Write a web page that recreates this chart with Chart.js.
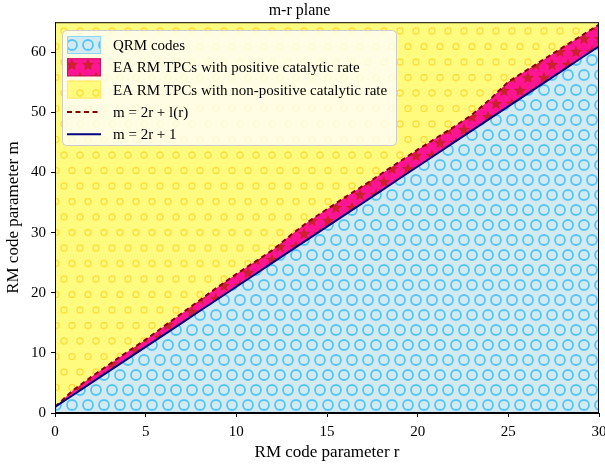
<!DOCTYPE html>
<html>
<head>
<meta charset="utf-8">
<script src="https://cdn.jsdelivr.net/npm/chart.js@4.4.0/dist/chart.umd.min.js"></script>
<style>
  html, body { margin: 0; padding: 0; background: #fff; }
  #wrap { width: 605px; height: 470px; }
</style>
</head>
<body>
<div id="wrap"><canvas id="mrChart" width="605" height="470"></canvas></div>
<script>
// values
const rValues = [0, 1, 2, 3, 4, 5, 6, 7, 8, 9, 10, 11, 12, 13, 14, 15, 16, 17, 18, 19, 20, 21, 22, 23, 24, 25, 26, 27, 28, 29, 30];
const qrmBound = [1, 3, 5, 7, 9, 11, 13, 15, 17, 19, 21, 23, 25, 27, 29, 31, 33, 35, 37, 39, 41, 43, 45, 47, 49, 51, 53, 55, 57, 59, 61];
const catalyticBound = [1.0, 3.8, 6.0, 8.1, 10.2, 12.2, 14.4, 16.6, 18.8, 21.0, 23.1, 25.1, 27.1, 29.6, 31.9, 33.9, 35.9, 37.8, 39.8, 41.8, 43.8, 45.7, 47.6, 49.6, 52.2, 55.1, 57.0, 58.9, 60.8, 62.7, 64.6];
const seriesLabels = ['QRM codes', 'EA RM TPCs with positive catalytic rate', 'EA RM TPCs with non-positive catalytic rate', 'm = 2r + l(r)', 'm = 2r + 1'];
const xTicks = [0, 5, 10, 15, 20, 25, 30];
const yTicks = [0, 10, 20, 30, 40, 50, 60];

const serif = "'Liberation Serif', 'DejaVu Serif', serif";

// hatch-like fills
function makePattern(bg, w, h, drawMark) {
    const c = document.createElement('canvas');
    c.width = w; c.height = h;
    const g = c.getContext('2d');
    g.fillStyle = bg;
    g.fillRect(0, 0, w, h);
    const spots = [[0, 0], [w, 0], [0, h], [w, h], [w / 2, h / 2]];
    spots.forEach(p => drawMark(g, p[0], p[1]));
    return g.createPattern(c, 'repeat');
}

function ring(color, rad, lw) {
    return function (g, x, y) {
        g.strokeStyle = color;
        g.lineWidth = lw;
        g.beginPath();
        g.arc(x, y, rad, 0, Math.PI * 2);
        g.stroke();
    };
}

function star(color, rad) {
    return function (g, x, y) {
        g.fillStyle = color;
        g.beginPath();
        for (let i = 0; i < 10; i++) {
            const a = -Math.PI / 2 + i * Math.PI / 5;
            const rr = i % 2 === 0 ? rad : rad * 0.45;
            g.lineTo(x + rr * Math.cos(a), y + rr * Math.sin(a));
        }
        g.closePath();
        g.fill();
    };
}

const bluePattern = makePattern('#d3eaf2', 16, 30, ring('#55c6f2', 5, 1.8));
const pinkPattern = makePattern('#ff1493', 16, 26, star('#cc2030', 6.5));
const yellowPattern = makePattern('#fffb7e', 16, 31, ring('#ffde3c', 3, 1.3));

function pts(ys) {
    return rValues.map((r, i) => ({ x: r, y: ys[i] }));
}

// legend drawn inside the plot, like the original
const insideLegend = {
    id: 'insideLegend',
    afterDraw(chart) {
        const ctx = chart.ctx;
        const ds = chart.data.datasets;
        const x0 = 62, y0 = 30, w = 334, h = 115;
        ctx.save();
        ctx.fillStyle = 'rgba(255,255,255,0.8)';
        ctx.strokeStyle = '#cccccc';
        ctx.lineWidth = 1;
        ctx.beginPath();
        ctx.roundRect(x0 + 0.5, y0 + 0.5, w, h, 4);
        ctx.fill();
        ctx.stroke();
        ctx.font = '15px ' + serif;
        ctx.textBaseline = 'middle';
        ds.forEach((d, i) => {
            const cy = 45 + i * 22.3;
            if (d.fill) {
                ctx.fillStyle = d.backgroundColor;
                ctx.fillRect(67, cy - 9, 34, 18);
                ctx.strokeStyle = d.legendEdge;
                ctx.lineWidth = 1;
                ctx.strokeRect(67.5, cy - 8.5, 33, 17);
            } else {
                ctx.strokeStyle = d.borderColor;
                ctx.lineWidth = d.borderWidth;
                ctx.setLineDash(d.borderDash || []);
                ctx.beginPath();
                ctx.moveTo(67, cy);
                ctx.lineTo(101, cy);
                ctx.stroke();
                ctx.setLineDash([]);
            }
            ctx.fillStyle = '#000';
            ctx.fillText(d.label, 113, cy + 1);
        });
        ctx.restore();
    }
};

// full black frame around the plot
const frame = {
    id: 'frame',
    afterDatasetsDraw(chart) {
        const a = chart.chartArea;
        const ctx = chart.ctx;
        ctx.save();
        ctx.strokeStyle = '#000';
        ctx.lineWidth = 1;
        ctx.strokeRect(a.left + 0.5, a.top + 0.5, a.right - a.left - 1, a.bottom - a.top - 1);
        ctx.restore();
    }
};

const ctx = document.getElementById('mrChart').getContext('2d');
new Chart(ctx, {
    type: 'line',
    data: {
        datasets: [
            { label: seriesLabels[0], data: pts(qrmBound), fill: 'origin', backgroundColor: bluePattern, legendEdge: '#8fd8f2', borderWidth: 0, pointRadius: 0, order: 3 },
            { label: seriesLabels[1], data: pts(catalyticBound), fill: '-1', backgroundColor: pinkPattern, legendEdge: '#c2185b', borderWidth: 0, pointRadius: 0, order: 4 },
            { label: seriesLabels[2], data: pts(catalyticBound), fill: 'end', backgroundColor: yellowPattern, legendEdge: '#ffe86a', borderWidth: 0, pointRadius: 0, order: 5 },
            { label: seriesLabels[3], data: pts(catalyticBound), fill: false, borderColor: '#8b0000', borderWidth: 2, borderDash: [5, 3.5], pointRadius: 0, order: 1 },
            { label: seriesLabels[4], data: pts(qrmBound), fill: false, borderColor: '#000080', borderWidth: 2, pointRadius: 0, order: 0 }
        ]
    },
    options: {
        responsive: false,
        animation: false,
        layout: { padding: { top: 0, right: 6, left: 0, bottom: 0 } },
        plugins: {
            legend: { display: false },
            tooltip: { enabled: false },
            filler: { drawTime: 'beforeDatasetsDraw' },
            title: {
                display: true, text: 'm-r plane', color: '#000',
                font: { family: serif, size: 16, weight: 'normal' },
                padding: { top: 1, bottom: 2 }
            }
        },
        scales: {
            x: {
                type: 'linear', min: 0, max: 30,
                afterBuildTicks: s => { s.ticks = xTicks.map(v => ({ value: v })); },
                afterFit: s => { s.height = 57; s.paddingRight = 0; s.paddingLeft = 0; },
                grid: { display: true, drawOnChartArea: false, drawTicks: true, tickLength: 4, color: '#000' },
                border: { display: true, color: '#000' },
                ticks: { color: '#000', font: { family: serif, size: 15 }, padding: 6, maxRotation: 0 },
                title: { display: true, text: 'RM code parameter r', color: '#000', font: { family: serif, size: 17 }, padding: { top: 0, bottom: 7 } }
            },
            y: {
                type: 'linear', min: 0, max: 65,
                afterBuildTicks: s => { s.ticks = yTicks.map(v => ({ value: v })); },
                afterFit: s => { s.width = 55; s.paddingTop = 0; s.paddingBottom = 0; },
                grid: { display: true, drawOnChartArea: false, drawTicks: true, tickLength: 4, color: '#000' },
                border: { display: true, color: '#000' },
                ticks: { color: '#000', font: { family: serif, size: 15 }, padding: 5 },
                title: { display: true, text: 'RM code parameter m', color: '#000', font: { family: serif, size: 17 }, padding: { top: 3, bottom: 0 } }
            }
        }
    },
    plugins: [frame, insideLegend]
});
</script>
</body>
</html>
